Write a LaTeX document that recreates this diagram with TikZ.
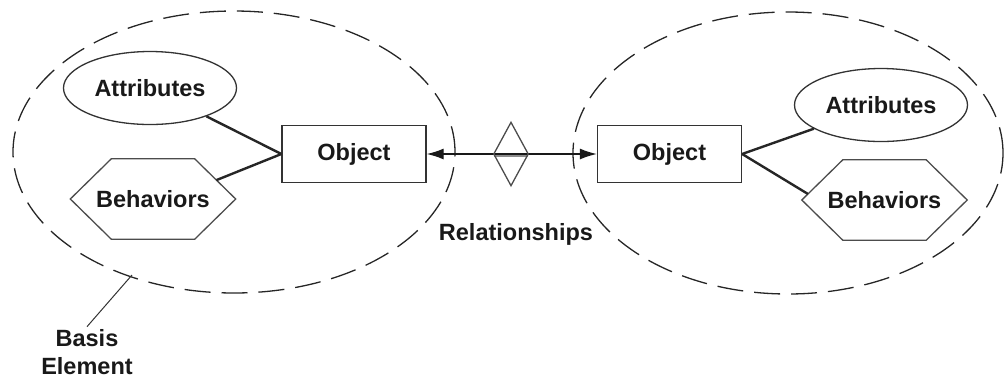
\documentclass[tikz,border=0pt]{standalone}
\usepackage{fontspec}
\setmainfont{Liberation Sans}
\usetikzlibrary{shapes.geometric,arrows.meta}
\begin{document}
\begin{tikzpicture}[x=1pt,y=-1pt,
  every node/.style={font=\fontsize{23.5}{28}\selectfont\bfseries, text=black!90},
  dashell/.style={draw=black!85, ellipse, dash pattern=on 26pt off 11pt, line width=1.3pt, inner sep=0pt},
  attrell/.style={draw=black!80, ellipse, line width=1.3pt, minimum width=173pt, minimum height=73pt, inner sep=0pt},
  objbox/.style={draw=black!80, rectangle, line width=1.3pt, minimum width=144pt, minimum height=57pt, inner sep=0pt},
  hexbox/.style={rectangle, minimum width=165pt, minimum height=80pt, inner sep=0pt},
  hexline/.style={draw=black!70, line width=1.3pt},
  link/.style={line width=2.4pt, draw=black!85},
  relline/.style={line width=1.3pt, draw=black!90, {Latex[length=17pt,width=11pt]}-{Latex[length=17pt,width=11pt]}},
  pointer/.style={line width=1pt, draw=black!80},
]
\useasboundingbox (0,0) rectangle (1004,384);

% basis elements (dashed)
\node[dashell, minimum width=442pt, minimum height=282pt] (lell) at (234,152) {};
\node[dashell, minimum width=430pt, minimum height=282pt] (rell) at (788,153) {};

% left element
\node[attrell] (lattr) at (150,88) {Attributes};
\node[hexbox] (lbeh) at (153,199) {Behaviors};
\draw[hexline] (lbeh.west) -- ([xshift=41pt]lbeh.north west) -- ([xshift=-41pt]lbeh.north east) -- (lbeh.east) -- ([xshift=-41pt]lbeh.south east) -- ([xshift=41pt]lbeh.south west) -- cycle;
\node[objbox] (lobj) at (354,154) {Object};
\path (lbeh.east) -- ([xshift=-41pt]lbeh.north east) coordinate[pos=0.47] (lbehc);
\draw[link] (lattr) -- (lobj.west);
\draw[link] (lbehc) -- (lobj.west);

% right element
\node[attrell] (rattr) at (881,105) {Attributes};
\node[hexbox] (rbeh) at (884.5,200) {Behaviors};
\draw[hexline] (rbeh.west) -- ([xshift=41pt]rbeh.north west) -- ([xshift=-41pt]rbeh.north east) -- (rbeh.east) -- ([xshift=-41pt]rbeh.south east) -- ([xshift=41pt]rbeh.south west) -- cycle;
\node[objbox] (robj) at (669.5,154) {Object};
\path (rbeh.west) -- ([xshift=41pt]rbeh.north west) coordinate[pos=0.15] (rbehc);
\draw[link] (rattr) -- (robj.east);
\draw[link] (rbehc) -- (robj.east);

% relationship
\node[rectangle, minimum width=34pt, minimum height=63pt, inner sep=0pt] (dia) at (511,154) {};
\draw[line width=3pt, black!45] ([yshift=-1.5pt]dia.west) -- ([yshift=-1.5pt]dia.east);
\draw[relline] (lobj.east) -- (robj.west);
\draw[hexline] (dia.west) -- (dia.north) -- (dia.east) -- (dia.south) -- cycle;
\node[anchor=base] (reltext) at (516,240) {Relationships};

% basis element label
\coordinate (bp) at (132,275);
\node[align=center, inner sep=3pt] (basis) at (87,352.5) {Basis\\Element};
\draw[pointer] (basis.north) -- (bp);
\end{tikzpicture}
\end{document}
